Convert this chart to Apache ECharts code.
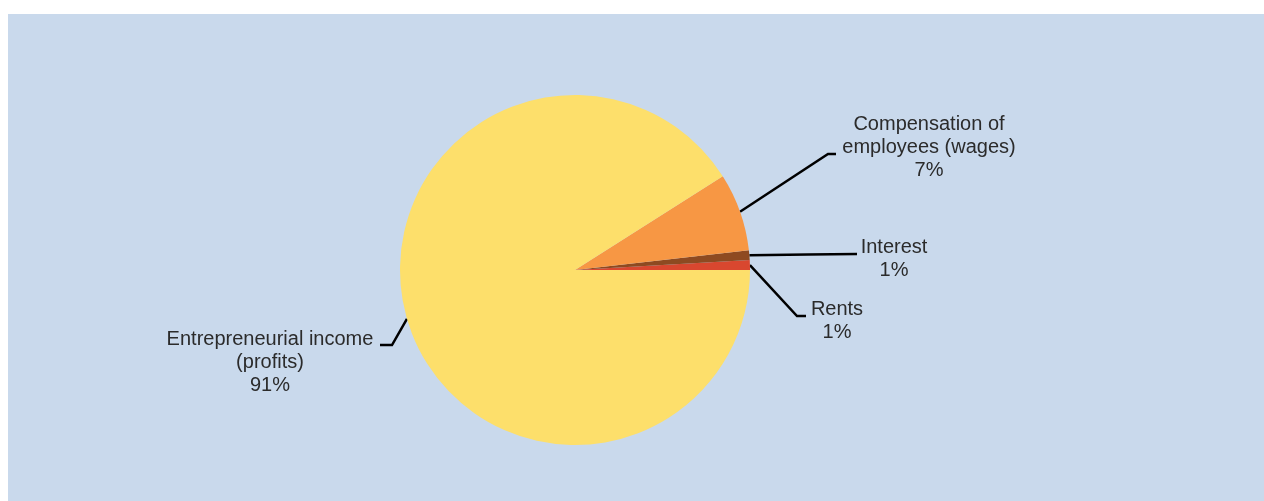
<!DOCTYPE html>
<html>
<head>
<meta charset="utf-8">
<script src="https://cdn.jsdelivr.net/npm/echarts@6/dist/echarts.min.js"></script>
<style>
  body { margin: 0; background: #fff; }
  #chart { position: absolute; left: 8px; top: 14px; width: 1256px; height: 487px; }
</style>
</head>
<body>
<div id="chart"></div>
<script>
  // slices, counter-clockwise from 3 o'clock
  var categories = ['Rents', 'Interest', 'Compensation of\nemployees (wages)', 'Entrepreneurial income\n(profits)']
  var values = [0.9, 0.9, 7.2, 91]
  var colors = ['#d9472f', '#8e4a21', '#f79744', '#fddf6b']

  // where each label sits: label centre, then elbow / end of the leader line
  var labelSpots = [
    { x: 829, y: 307, elbow: [789, 302], end: [798, 302] },
    { x: 886, y: 245, elbow: [800, 240.5], end: [849, 240] },
    { x: 921, y: 133, elbow: [820, 140], end: [828, 140] },
    { x: 262, y: 348, elbow: [384, 331], end: [372, 331] }
  ]

  var chart = echarts.init(document.getElementById('chart'))
  chart.setOption({
    backgroundColor: '#c9d9ec',
    animation: false,
    series: [{
      type: 'pie',
      center: [567, 256],
      radius: 175,
      startAngle: 0,
      clockwise: false,
      avoidLabelOverlap: false,
      percentPrecision: 0,
      itemStyle: { borderWidth: 0 },
      label: {
        show: true,
        formatter: '{b}\n{d}%',
        color: '#2b2b2b',
        fontFamily: 'Liberation Sans, Arial, sans-serif',
        fontSize: 20,
        lineHeight: 23,
        align: 'center'
      },
      labelLine: {
        show: true,
        lineStyle: { color: '#000', width: 2.5 }
      },
      labelLayout: function (params) {
        var s = labelSpots[params.dataIndex]
        var start = params.labelLinePoints ? params.labelLinePoints[0] : s.elbow
        return {
          x: s.x,
          y: s.y,
          align: 'center',
          verticalAlign: 'middle',
          labelLinePoints: [start, s.elbow, s.end]
        }
      },
      data: categories.map(function (name, i) {
        return { name: name, value: values[i], itemStyle: { color: colors[i] } }
      })
    }]
  })
</script>
</body>
</html>
